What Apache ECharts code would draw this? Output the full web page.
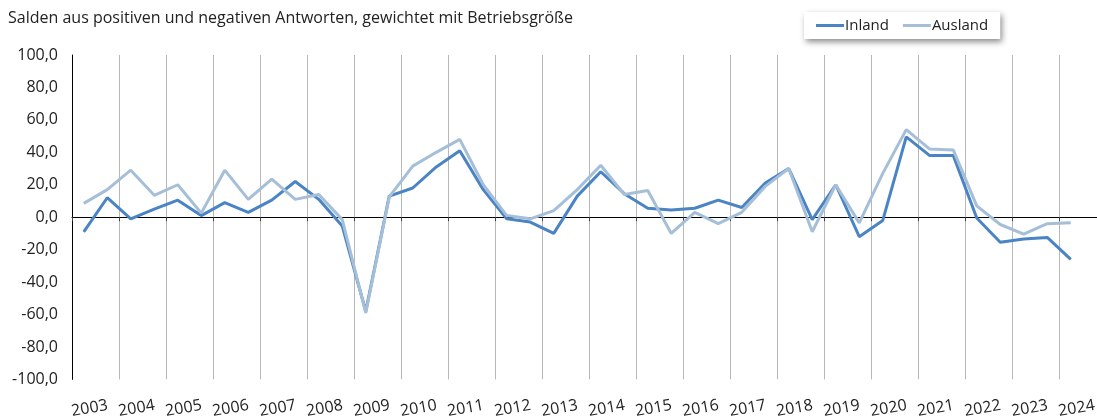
<!DOCTYPE html>
<html>
<head>
<meta charset="utf-8">
<script src="https://cdn.jsdelivr.net/npm/echarts@6/dist/echarts.min.js"></script>
<style>
  html, body { margin: 0; padding: 0; background: #fff; overflow: hidden; }
  /* die Zeichenfläche ragt rechts etwas über das Fenster hinaus (wie im Original abgeschnitten) */
  #chart { width: 1106px; height: 420px; }
</style>
</head>
<body>
<div id="chart"></div>
<script>
  // Jahre (Achsenbeschriftung) und Halbjahre (Datenpunkte)
  const years = [];
  for (let y = 2003; y <= 2024; y++) years.push(String(y));
  const halfYears = [];
  years.forEach((y) => { halfYears.push(y + '-1'); halfYears.push(y + '-2'); });

  const inland = [
    -9, 12, -1, 5, 10.5, 1, 9, 3, 10.5, 22, 11, -5.5,
    -58, 13, 18, 31, 41, 17, -1, -3, -10, 13, 28, 14.5,
    5.5, 4.5, 5.5, 10.5, 6, 21, 30, -1.5, 20, -12, -2, 49.5,
    38, 38, -0.5, -15.5, -13.5, -12.5, -26
  ];
  const ausland = [
    8.5, 17, 29, 13.5, 20, 2.5, 29, 11, 23.5, 11, 14, -1.5,
    -59, 12.5, 31.5, 40, 48, 20, 1, -1, 4, 17, 32, 14,
    16.5, -10, 3, -4, 3, 19, 30, -9, 20, -3.5, 27, 54,
    42, 41.5, 7, -4.5, -10.5, -4, -3.5
  ];

  const chart = echarts.init(document.getElementById('chart'));
  const font = '"Open Sans", "Noto Sans", sans-serif';

  const option = {
    animation: false,
    textStyle: { fontFamily: font },
    title: {
      text: 'Salden aus positiven und negativen Antworten, gewichtet mit Betriebsgröße',
      left: 3,
      top: 5,
      textStyle: { fontSize: 16, fontWeight: 'normal', color: '#222', fontFamily: font }
    },
    legend: {
      left: 804,
      top: 12,
      padding: [6, 12, 6, 12],
      icon: 'rect',
      itemWidth: 28,
      itemHeight: 3,
      itemGap: 14,
      backgroundColor: '#fff',
      shadowBlur: 6,
      shadowColor: 'rgba(0,0,0,0.45)',
      shadowOffsetX: 2,
      shadowOffsetY: 3,
      textStyle: { fontSize: 15, color: '#222', padding: [0, 0, 0, -4] },
      data: ['Inland', 'Ausland']
    },
    grid: { left: 72, right: 0, top: 55, bottom: 40 },
    xAxis: [
      {
        // Jahresachse mit Nulllinie und senkrechten Gitterlinien
        type: 'category',
        data: years,
        boundaryGap: true,
        axisLine: { onZero: true, lineStyle: { color: '#000', width: 1 } },
        axisTick: { show: true, length: 4, lineStyle: { color: '#444' } },
        axisLabel: { show: false },
        splitLine: { show: true, lineStyle: { color: '#b7b7b7', width: 1 } }
      },
      {
        // nur Beschriftung unten
        type: 'category',
        data: years,
        position: 'bottom',
        boundaryGap: true,
        axisLine: { show: false, onZero: false },
        axisTick: { show: false },
        axisLabel: {
          rotate: 10, margin: 28, fontSize: 16, color: '#222', interval: 0,
          align: 'center', verticalAlign: 'middle', padding: [0, 12, 0, 0]
        },
        splitLine: { show: false }
      },
      {
        // Halbjahre für die Datenpunkte
        type: 'category',
        data: halfYears,
        boundaryGap: true,
        show: false
      }
    ],
    yAxis: {
      type: 'value',
      min: -100,
      max: 100,
      interval: 20,
      axisLine: { show: true, lineStyle: { color: '#000', width: 1 } },
      axisTick: { show: false },
      splitLine: { show: false },
      axisLabel: {
        fontSize: 16,
        color: '#222',
        margin: 14,
        formatter: (v) => v.toFixed(1).replace('.', ',')
      }
    },
    series: [
      {
        name: 'Inland',
        type: 'line',
        xAxisIndex: 2,
        data: inland,
        showSymbol: false,
        symbol: 'none',
        lineStyle: { color: '#4a84c4', width: 3 },
        itemStyle: { color: '#4a84c4' }
      },
      {
        name: 'Ausland',
        type: 'line',
        xAxisIndex: 2,
        data: ausland,
        showSymbol: false,
        symbol: 'none',
        lineStyle: { color: '#a5bfd8', width: 3 },
        itemStyle: { color: '#a5bfd8' }
      }
    ]
  };

  chart.setOption(option);
</script>
</body>
</html>
